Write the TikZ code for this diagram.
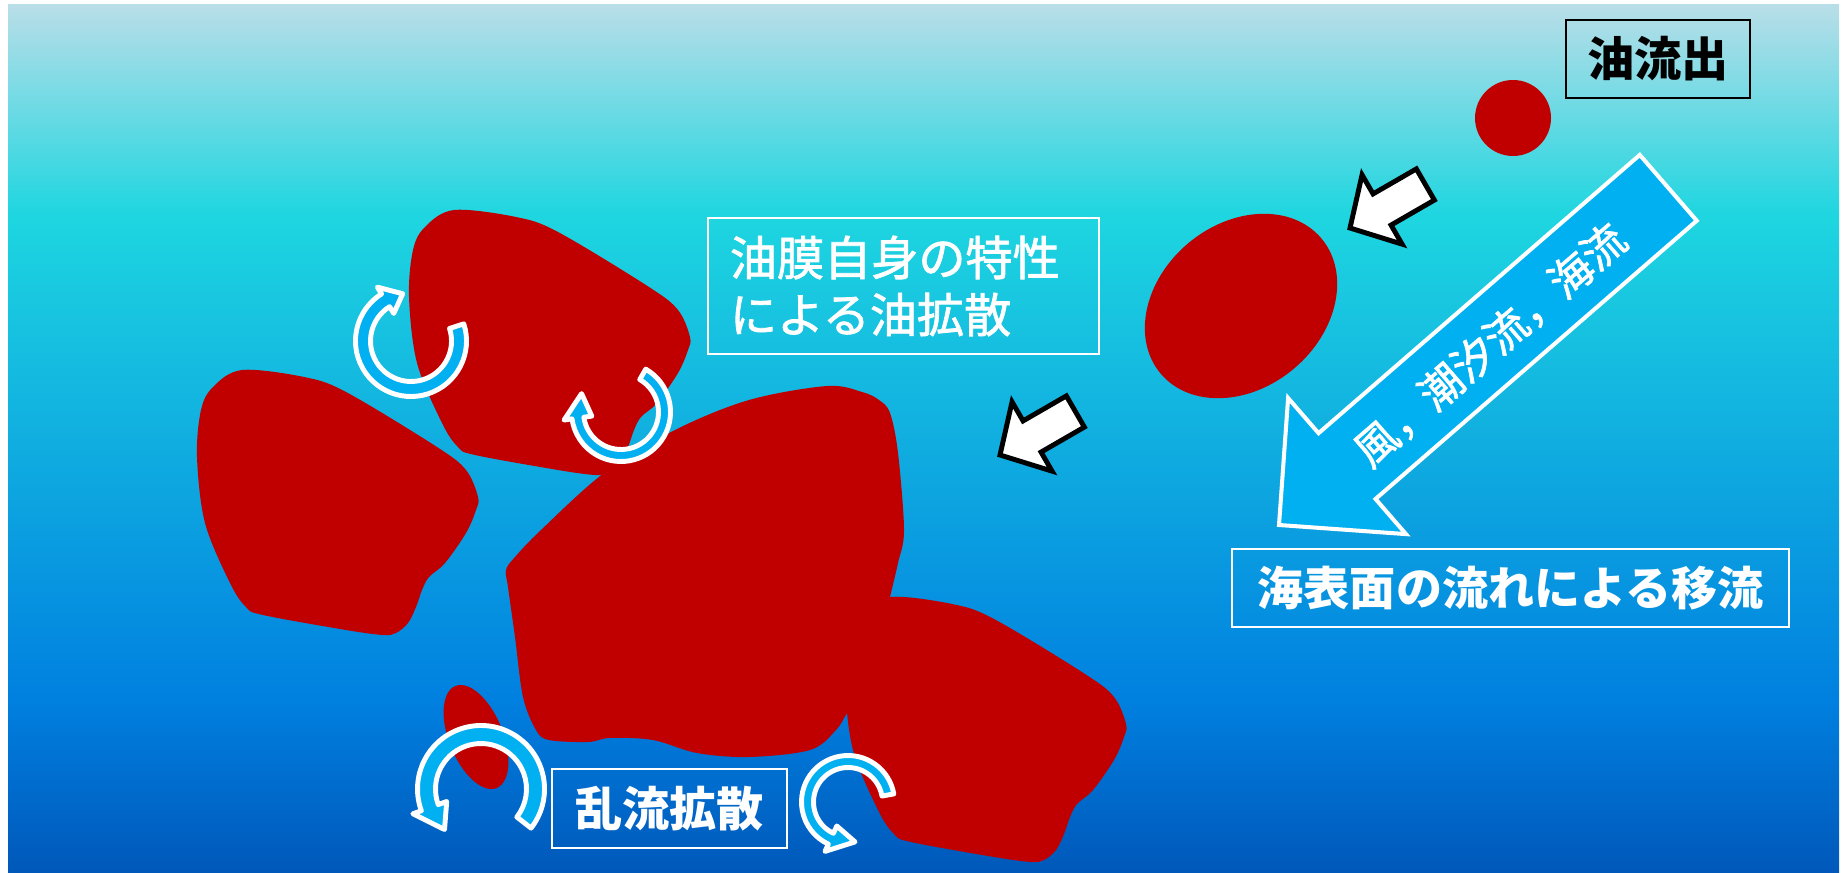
\documentclass[tikz,border=0pt]{standalone}
\usepackage{fontspec}
\setmainfont{Noto Sans CJK JP}
\newfontfamily\jpmid[FakeBold=1.6]{Noto Sans CJK JP}
\usepackage{xcolor}
\usepackage{tikz}
\usetikzlibrary{calc}
\definecolor{oilred}{HTML}{C00000}
\definecolor{arrowblue}{HTML}{00B0F0}
\definecolor{seatop}{RGB}{185,222,232}
\definecolor{seacyan}{RGB}{30,214,224}
\definecolor{seablue}{RGB}{0,128,224}
\definecolor{seadeep}{RGB}{0,88,186}
\pgfdeclareverticalshading{sea}{100bp}{color(0bp)=(seadeep); color(25bp)=(seadeep); color(34.92bp)=(seablue); color(62.89bp)=(seacyan); color(75bp)=(seatop); color(100bp)=(seatop)}

\begin{document}
\begin{tikzpicture}[
			x={(0.01cm,0)},
			y={(0,0.01cm)},
			line join=miter,
			slick/.pic={
				\fill[oilred] plot[smooth cycle, tension=.55] coordinates {
					(0,0) (62,-7) (104,-22) (195,-77) (224,-100) (236,-127) (234,-140)
					(224,-163) (203,-193) (187,-207) (180,-220) (174,-237) (166,-253)
					(154,-263) (141,-265) (104,-260) (21,-245) (4,-237) (-12,-213)
					(-37,-153) (-45,-87) (-41,-40) (-29,-17)};
			},
			whitebox/.style={draw=white, line width=.6pt, text=white, inner sep=0pt},
			pointer/.style={fill=white, draw=black, line width=1.4pt},
			swirlband/.style={fill=arrowblue, draw=white, line width=1.4pt, line join=round}
			]
			
			\useasboundingbox (0,0) rectangle (1843,872);
			
			% sea surface
			\shade[shading=sea] (8,0) rectangle (1839,867);
			
			%------------------------------
			% oil slicks
			%------------------------------
			\fill[oilred] plot[smooth cycle, tension=.55] coordinates {
				(604,399) (675,442) (749,472) (827,486) (862,480) (879,472) (890,459)
				(898,419) (904,342) (898,309) (890,275) (870,190) (849,162) (836,142)
				(810,122) (749,115) (697,119) (653,132) (610,134) (588,130) (549,132)
				(536,142) (523,175) (515,235) (508,285) (506,302) (515,315) (541,342)};
			\pic at (454,662) {slick};
			\pic at (242,502) {slick};
			\pic at (890,275) {slick};
			\fill[oilred, rotate around={112:(476,135)}] (476,135) ellipse [x radius=55, y radius=27];
			\fill[oilred, rotate around={40:(1241,566)}] (1241,566) ellipse [x radius=105, y radius=82];
			\fill[oilred] (1513,754) circle [radius=38];
			
			%------------------------------
			% turbulent eddies
			%------------------------------
			\foreach \cx/\cy/\ro/\ri/\ta/\hb/\ht/\e in {
				411/531/55.5/40.5/18/-238/-260/8,
				621/460/49.5/37.5/60/-172/-205/8,
				481/83/63.5/45.5/-38/200/228/9,
				848/70/46.5/34.5/10/245/280/8}{
				\filldraw[swirlband, shift={(\cx,\cy)}]
				(\ta:\ro) arc[start angle=\ta, end angle=\hb, radius=\ro]
				-- (\hb:{\ro+\e}) -- (\ht:{(\ro+\ri)/2}) -- (\hb:{\ri-\e}) -- (\hb:\ri)
				arc[start angle=\hb, end angle=\ta, radius=\ri] -- cycle;
			}
			
			%------------------------------
			% drift arrows
			%------------------------------
			\foreach \tx/\ty in {1350/644, 1000/417}{
				\filldraw[pointer, shift={(\tx,\ty)}, rotate=210]
				(0,0) -- (-37,40) -- (-37,18) -- (-87,18) -- (-87,-18) -- (-37,-18) -- (-37,-40) -- cycle;
			}
			\filldraw[fill=arrowblue, draw=white, line width=1.15pt, shift={(1279,347)}, rotate=220.9]
			(0,0) -- (-90,90) -- (-90,43.5) -- (-515,43.5) -- (-515,-43.5) -- (-90,-43.5) -- (-90,-90) -- cycle;
			\node[text=white, rotate=40.9, font=\jpmid\fontsize{12.2}{14}\selectfont] (drivers) at (1490,527) {風，潮汐流，海流};
			
			%------------------------------
			% labels
			%------------------------------
			\node[draw=black, line width=.6pt, minimum width=1.84cm, minimum height=.78cm,
			font=\bfseries\fontsize{13.4}{16}\selectfont] (outflow) at (1658,813) {油流出};
			\node[whitebox, text width=3.47cm, inner xsep=.22cm, minimum height=1.36cm, align=left,
			font=\jpmid\fontsize{13.4}{16.2}\selectfont] (selfspread) at (903.5,586) {油膜自身の特性\\による油拡散};
			\node[whitebox, minimum width=5.57cm, minimum height=.78cm,
			font=\bfseries\fontsize{13.1}{16}\selectfont] (advection) at (1510.5,284) {海表面の流れによる移流};
			\node[whitebox, minimum width=2.35cm, minimum height=.79cm,
			font=\bfseries\fontsize{13.4}{16}\selectfont] (turbulence) at (669.5,63.5) {乱流拡散};
		\end{tikzpicture}
\end{document}
